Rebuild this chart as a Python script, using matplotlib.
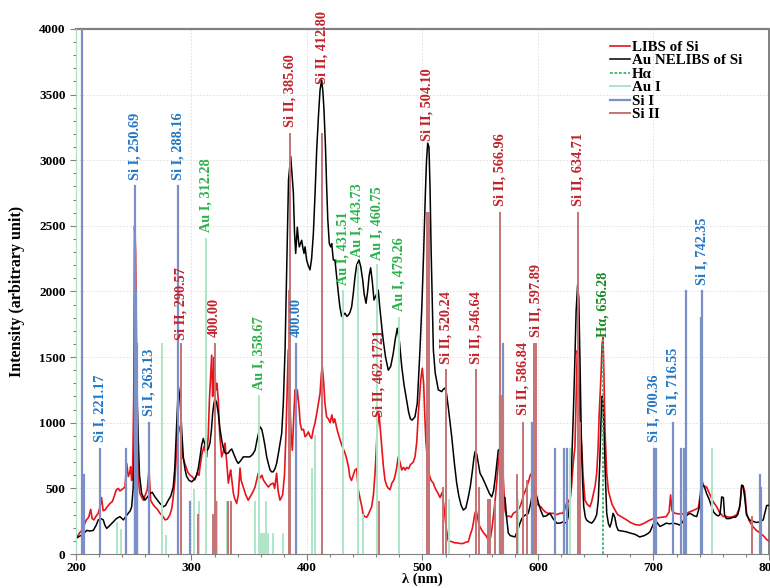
import numpy as np
import matplotlib
matplotlib.use("Agg")
import matplotlib.pyplot as plt
from matplotlib.ticker import MultipleLocator

# LIBS of Si (red): wavelength (nm) / intensity
libs_wl = [200, 201, 203, 205, 207, 209, 211, 212.7, 214, 215.5, 217.5, 219.3, 220.8, 222.1, 223.5, 225,
           227, 229.4, 231.5, 233.8, 235, 236.7, 238, 239.5, 241, 242.4, 243.9, 245.3, 246.5, 247.3,
           248.2, 249, 250, 250.7, 251.6, 252.5, 253.5, 254.5, 255.4, 257, 258.3, 260, 261.7, 263.2,
           264.6, 266.5, 268.4, 270.5, 272.7, 275, 277.1, 279, 281.4, 283, 284.2, 285.5, 286.6, 287.5,
           288.6, 289.5, 290.6, 291.5, 292.3, 293.8, 295.2, 297, 298.7, 300.5, 303, 305, 306.5, 307.4,
           309, 310.8, 312, 313.2, 314.5, 315.5, 316.5, 317.5, 318.3, 319, 319.7, 320.4, 321.2, 322,
           323.2, 324.5, 326.1, 327.5, 329, 330.5, 331.9, 333, 333.9, 335, 336.3, 337.5, 339.1, 340.5,
           342, 343, 344.8, 347, 349.1, 351, 353, 355, 357.8, 359.5, 361, 362.2, 364, 366.5, 368.5,
           370.8, 372, 373.7, 375, 376.6, 378.9, 380.5, 381.8, 383, 383.8, 384.7, 385.3, 386.3, 387.3,
           388.3, 389.6, 390.5, 391.6, 393.3, 394, 395.4, 397, 398.3, 399.7, 401.2, 402.5, 404, 405.5,
           407, 409, 411.3, 412.5, 413.3, 414.5, 415.5, 417, 418.5, 420, 421.5, 422.8, 424, 426, 428.6,
           430.5, 432.9, 434.5, 436, 437, 438.5, 440, 441.5, 443, 444.4, 446, 447.5, 448.7, 450, 451.6,
           453, 454.5, 456, 457.5, 458.9, 460, 460.9, 462.3, 463.5, 464.7, 466, 467.5, 469, 470.5,
           471.9, 473.5, 475, 476, 477.5, 479, 480.5, 482, 483.5, 485, 486.3, 488, 489.5, 490.7, 492,
           493.5, 495, 496.4, 497.5, 498.4, 499.8, 501, 502, 503, 504.5, 506, 507.5, 509.4, 511, 513,
           515.2, 517, 518.3, 519.5, 520.5, 522.3, 525, 528, 530, 532.5, 535, 537.5, 539.7, 541.5, 543,
           544, 545.2, 546.3, 547.5, 548.7, 549.8, 551.5, 553, 555, 557, 559, 560.2, 561.3, 562.8,
           564.2, 565.5, 567, 568.2, 569.4, 570.4, 571.4, 572.9, 575, 576.8, 578.6, 580.5, 582.3,
           584.4, 586, 587.5, 589, 590.2, 592, 593.3, 594.5, 595.8, 597, 598.8, 600.5, 602.5, 604.6,
           606.5, 608.5, 611, 613.2, 615.5, 617.5, 619, 621, 622.8, 624.8, 626.5, 628, 629, 630.5, 632,
           633, 634, 634.7, 635.5, 636.5, 637.8, 639, 640.7, 642.5, 645, 646.5, 648, 649.5, 650.8, 652,
           653, 654.5, 655.5, 656.3, 657, 658, 659.5, 661, 662.3, 664, 666.7, 669, 672, 676.7, 680, 684,
           688, 692, 696, 699.8, 703, 707, 711, 713.5, 714.8, 716, 718.6, 722, 725, 728.7, 731, 734,
           736.5, 738.8, 740.5, 741.7, 743.5, 746, 749, 751.5, 754.7, 757, 760.4, 763, 766, 769, 772,
           774.5, 776.3, 777.5, 779, 780.6, 783, 786.4, 789, 792.2, 795, 798, 800]
libs_int = [120, 130, 160, 180, 220, 260, 280, 340, 270, 260, 290, 310, 360, 430, 330, 335,
            360, 385, 400, 460, 490, 500, 480, 490, 500, 510, 690, 590, 620, 665,
            560, 600, 1200, 2500, 2300, 1500, 800, 520, 460, 430, 410, 450, 490, 640,
            410, 380, 360, 340, 310, 290, 260, 265, 300, 350, 435, 550, 715, 900,
            980, 960, 920, 820, 740, 700, 665, 620, 600, 590, 565, 620, 600, 665,
            760, 820, 780, 740, 900, 1170, 1350, 1515, 1200, 1300, 1500, 1350, 1250, 1300,
            1170, 900, 740, 780, 845, 700, 540, 600, 640, 560, 460, 420, 385, 450,
            655, 560, 510, 450, 410, 440, 470, 510, 615, 580, 600, 565, 540, 510, 530,
            540, 500, 615, 480, 410, 450, 600, 920, 1300, 1555, 1350, 1120, 900, 790,
            1000, 1250, 1150, 1250, 1100, 1000, 945, 950, 894, 906, 930, 900, 880, 950,
            1000, 1100, 1225, 1380, 1420, 1300, 1150, 1045, 1030, 1000, 1060, 1000, 1030, 950, 870,
            820, 770, 720, 660, 590, 560, 600, 640, 650, 490, 420, 360, 300, 285, 280,
            300, 330, 360, 450, 615, 800, 970, 1070, 950, 820, 680, 565, 520, 500,
            490, 540, 560, 585, 650, 740, 700, 640, 660, 640, 660, 650, 680, 690, 700,
            740, 850, 1070, 1200, 1320, 1415, 1300, 1050, 850, 700, 600, 560, 540, 500, 470,
            430, 470, 380, 285, 200, 100, 95, 85, 85, 80, 80, 90, 95, 150, 190,
            235, 300, 335, 290, 230, 205, 180, 160, 140, 105, 130, 200, 285, 400,
            540, 680, 790, 740, 665, 500, 335, 285, 290, 280, 310, 320, 330,
            360, 400, 450, 480, 510, 560, 600, 615, 560, 450, 385, 370, 360, 335,
            320, 310, 310, 310, 300, 305, 310, 310, 330, 390, 400, 430, 510, 690, 820,
            1200, 1550, 1500, 1300, 1000, 820, 600, 410, 380, 360, 400, 460, 520, 615, 800,
            1070, 1350, 1600, 1650, 1400, 945, 615, 480, 435, 380, 335, 300, 285, 260, 240, 225,
            220, 235, 255, 270, 275, 280, 285, 320, 450, 330, 310, 305, 305, 310, 320, 330,
            340, 350, 450, 565, 520, 510, 450, 400, 360, 320, 285, 285, 280, 285, 300,
            350, 510, 520, 480, 310, 250, 205, 180, 160, 140, 110, 100]

# Au NELIBS of Si (black)
nelibs_wl = [200, 203, 206, 209.3, 212, 215, 217.5, 219.3, 221.5, 223.6, 225, 226.6, 229, 232.3, 235,
             238, 241, 243.5, 245.3, 247, 248.2, 249.5, 250.5, 251.3, 252, 253, 254, 255, 256.9,
             258.5, 259.7, 261.5, 264, 266, 268.4, 270.5, 272.7, 275.6, 277.5, 279.9, 282, 284.2,
             285.5, 286.6, 287.7, 288.6, 289.6, 290.6, 291.8, 292.9, 294.5, 295.8, 298, 300.2, 302.5,
             304.5, 306, 307.4, 308.8, 310.2, 311.7, 313.2, 314.5, 316, 317.3, 318.3, 319.3, 320.3,
             321.8, 323.2, 324.5, 326.1, 327.5, 329, 330.5, 331.9, 333.5, 334.8, 336.2, 337.7, 339,
             340.5, 342.5, 344.8, 347.5, 350.6, 353, 355, 357, 359.3, 360.8, 362.2, 363.7, 365.1,
             366.5, 368, 369.5, 370.8, 372.3, 373.7, 375.5, 377, 378.1, 379.5, 381, 382, 383, 384,
             385.9, 387, 388.2, 389.2, 390.2, 391.6, 392.5, 393.3, 394.3, 395.4, 396.5, 397.4, 398.3,
             399.7, 401, 402.6, 404, 405.5, 407, 408.4, 410, 411.3, 412.7, 413.7, 414.7, 416, 417,
             418, 419.3, 420.5, 421.4, 422.8, 424.2, 425.7, 427.1, 428.5, 430, 431.5, 432.9, 434.5,
             435.8, 437.2, 438.7, 440, 441.6, 443, 445, 446.5, 448.2, 449.5, 451.1, 452.5, 453.8,
             455.1, 456.5, 458, 459.8, 461.7, 463, 464.5, 466, 468, 470.4, 472.5, 474.7, 476.5,
             478.2, 480, 482, 484, 486.3, 488, 489.5, 491, 493.5, 495.5, 497.8, 499.5, 501, 502.5,
             503.5, 504.5, 505.6, 506.5, 507.5, 508.5, 509.4, 511, 513.7, 515, 516.6, 518, 519.5,
             520.8, 522.3, 523.8, 525.3, 527.5, 529.6, 531.5, 533.5, 535.3, 537.5, 539.7, 541.5, 543,
             544.5, 545.5, 547, 548.5, 549.8, 552, 554, 556, 558, 559.9, 561.5, 563, 564.5, 565.6,
             566.8, 568, 569, 570, 571.4, 572.8, 574.3, 576, 578, 580, 582, 584.4, 586, 587.3, 589.5,
             591.6, 593.5, 595, 596.5, 598, 600.3, 602.5, 604.6, 607, 610.4, 613, 616.2, 619, 622,
             624.8, 626.5, 627.7, 629, 630.6, 632, 633, 634.3, 635.3, 636.3, 637.5, 638.6, 639.6, 641,
             642, 644, 646.5, 648, 649.4, 650.8, 652.2, 653.5, 654.5, 655.3, 656.3, 657.3, 658.3,
             659.5, 661, 662.3, 663.5, 665, 666.5, 668, 669.5, 673, 676, 679.7, 684, 688, 692, 695,
             697, 699.5, 701.3, 703, 705.6, 708, 711, 714, 717, 720, 722.9, 725, 727.5, 729.5, 731.6,
             733.5, 735.5, 737.4, 739.5, 741.7, 743, 744.5, 746, 748, 750, 752, 754, 756, 757.5,
             758.5, 759, 760.5, 761.5, 763, 766, 769, 771, 773, 775, 776.3, 777.5, 779, 780.5, 783,
             786, 789, 792, 795, 798, 800]
nelibs_int = [120, 135, 150, 180, 175, 180, 220, 260, 270, 260, 220, 195, 215, 245, 270,
              285, 260, 290, 310, 330, 360, 500, 800, 1050, 1210, 1150, 850, 600, 460,
              430, 410, 430, 460, 470, 435, 410, 385, 360, 370, 410, 440, 510,
              650, 870, 1100, 1275, 1220, 1100, 900, 740, 640, 590, 560, 550, 570,
              600, 660, 740, 830, 880, 830, 790, 800, 845, 950, 1070, 1140, 1185,
              1150, 1070, 960, 870, 810, 770, 765, 770, 790, 800, 770, 740, 710,
              690, 710, 740, 740, 740, 760, 790, 880, 970, 950, 894, 820, 740,
              690, 640, 625, 627, 650, 690, 780, 860, 920, 1150, 1555, 2000, 2450, 2850,
              3030, 2900, 2750, 2450, 2290, 2490, 2400, 2340, 2365, 2390, 2330, 2290, 2340,
              2240, 2200, 2165, 2250, 2440, 2750, 3080, 3350, 3535, 3610, 3530, 3385, 3100, 2800,
              2550, 2365, 2340, 2365, 2240, 2240, 2110, 1990, 1880, 1810, 1820, 1835, 1810,
              1820, 1840, 1885, 1980, 2115, 2200, 2240, 2190, 2090, 1980, 1910, 2000, 2120,
              2180, 2080, 1935, 1970, 2010, 1880, 1750, 1630, 1500, 1400, 1430, 1530, 1640,
              1720, 1620, 1430, 1290, 1170, 1080, 1030, 1020, 1045, 1150, 1555, 1900, 2300, 2750,
              3000, 3130, 3100, 2800, 2300, 1900, 1555, 1380, 1250, 1245, 1237, 1255, 1265,
              1220, 1120, 1010, 894, 700, 540, 440, 370, 335, 350, 435, 520, 620,
              730, 780, 760, 680, 615, 580, 540, 500, 460, 435, 480, 580, 700, 790,
              800, 740, 600, 435, 430, 280, 160, 140, 135, 130, 170, 235, 270, 285, 300,
              310, 380, 450, 500, 470, 390, 330, 285, 290, 310, 270, 235, 235, 245,
              235, 300, 435, 650, 1070, 1500, 1850, 2050, 1950, 1500, 900, 550, 360, 280,
              260, 245, 235, 250, 270, 300, 410, 700, 1000, 1200, 1150, 900, 600,
              310, 230, 205, 240, 310, 280, 210, 180, 175, 170, 160, 150, 130, 140, 155,
              170, 220, 260, 240, 210, 220, 235, 230, 235, 230, 220, 240, 280, 300, 310,
              300, 290, 285, 350, 510, 525, 500, 460, 420, 370, 320, 300, 290, 300,
              380, 435, 430, 300, 270, 270, 280, 280, 300, 380, 525, 520, 430, 300, 260,
              250, 240, 245, 260, 370, 370]

# reference emission lines (position nm, stick height)
au1_wl = [200.0, 235.5, 239.0, 274.8, 278.0, 302.0, 306.5, 312.28, 321.8, 330.5, 355.0, 358.67,
          360.5, 362.0, 363.0, 364.5, 366.0, 370.6, 379.0, 404.5, 406.5, 431.51, 443.73, 448.8,
          460.75, 479.26, 523.0, 583.0, 627.8, 751.0]
au1_h = [4000, 240, 180, 1600, 140, 490, 400, 2400, 400, 400, 400, 1200,
         150, 150, 150, 400, 150, 150, 150, 650, 900, 2000, 2200, 300,
         2200, 1800, 410, 410, 800, 800]

si1_wl = [205.0, 206.8, 221.17, 243.5, 250.69, 251.43, 251.92, 252.41, 252.85, 263.13, 288.16,
          298.76, 390.55, 567.0, 569.8, 594.9, 614.7, 622.5, 625.0, 700.36, 702.2, 716.55, 723.8,
          726.4, 728.0, 741.0, 742.35, 792.0, 793.5]
si1_h = [4000, 600, 800, 800, 2800, 2400, 2000, 1600, 1200, 1000, 2800,
         400, 1600, 1200, 1600, 1000, 800, 800, 800, 800, 800, 1000, 800,
         800, 2000, 1800, 2000, 600, 500]

si2_wl = [290.57, 305.5, 318.7, 320.0, 321.5, 332.0, 334.0, 384.6, 385.60, 412.80, 462.17, 504.10,
          505.60, 517.9, 520.24, 546.64, 549.0, 556.7, 558.5, 563.0, 566.96, 568.4, 581.5, 586.84,
          590.2, 596.7, 597.89, 634.71, 636.6, 785.0]
si2_h = [1600, 300, 300, 1600, 400, 400, 400, 2000, 3200, 3200, 400, 2600,
         2600, 500, 1400, 1400, 500, 410, 410, 400, 2600, 1200, 600, 1000,
         560, 1600, 1600, 2600, 1000, 280]

ha_wl = [656.28]
ha_h = [1650]

# line identifications: position, text baseline height, text, line type
id_wl = [221.17, 250.69, 263.13, 288.16, 290.57, 312.28, 320.0, 358.67, 385.60, 390.55, 412.80,
         431.51, 443.73, 460.75, 462.17, 479.26, 504.10, 520.24, 546.64, 566.96, 586.84, 597.89,
         634.71, 656.28, 700.36, 716.55, 742.35]
id_y = [850, 2850, 1050, 2850, 1630, 2450, 1650, 1250, 3250, 1650, 3580,
        2050, 2260, 2240, 1040, 1850, 3150, 1450, 1450, 2650, 1060, 1650,
        2650, 1650, 850, 1060, 2050]
id_text = ["Si I, 221.17", "Si I, 250.69", "Si I, 263.13", "Si I, 288.16", "Si II, 290.57",
           "Au I, 312.28", "400.00", "Au I, 358.67", "Si II, 385.60", "400.00", "Si II, 412.80",
           "Au I, 431.51", "Au I, 443.73", "Au I, 460.75", "Si II, 462.1721", "Au I, 479.26",
           "Si II, 504.10", "Si II, 520.24", "Si II, 546.64", "Si II, 566.96", "Si II, 586.84",
           "Si II, 597.89", "Si II, 634.71", "Hα, 656.28", "Si I, 700.36", "Si I, 716.55",
           "Si I, 742.35"]
id_kind = ["si1", "si1", "si1", "si1", "si2", "au1", "si2", "au1", "si2", "si1", "si2",
           "au1", "au1", "au1", "si2", "au1", "si2", "si2", "si2", "si2", "si2", "si2",
           "si2", "ha", "si1", "si1", "si1"]

text_colors = {"si1": "#2277c4", "si2": "#c0232b", "au1": "#2bb34c", "ha": "#1b8a22"}

plt.rcParams["font.family"] = ["Liberation Serif", "DejaVu Serif"]
plt.rcParams["font.weight"] = "bold"


def sticks(wl, h):
    # vertical lines from zero, separated by NaN so one Line2D holds them all
    x = np.repeat(np.asarray(wl, float), 3)
    y = np.zeros_like(x)
    y[1::3] = h
    x[2::3] = np.nan
    y[2::3] = np.nan
    return x, y


fig = plt.figure(figsize=(7.7, 5.88), dpi=100)
ax = fig.add_axes([0.0987, 0.0578, 0.9, 0.893])

ax.plot(libs_wl, libs_int, color="#e8141c", lw=1.2, label="LIBS of Si", zorder=3)
ax.plot(nelibs_wl, nelibs_int, color="black", lw=1.1, label="Au NELIBS of Si", zorder=3)
ax.plot(*sticks(ha_wl, ha_h), color="#3cb46e", lw=1.3, ls=(0, (1.5, 1)), label="Hα", zorder=4)
ax.plot(*sticks(au1_wl, au1_h), color="#aee6c6", lw=1.4, label="Au I", zorder=4)
ax.plot(*sticks(si1_wl, si1_h), color="#7b8fc8", lw=1.6, label="Si I", zorder=5)
ax.plot(*sticks(si2_wl, si2_h), color="#c47474", lw=1.4, label="Si II", zorder=5)

for x, y, t, k in zip(id_wl, id_y, id_text, id_kind):
    ax.text(x, y, t, rotation=90, ha="center", va="bottom", fontsize=10.3,
            fontweight="bold", color=text_colors[k], clip_on=False, zorder=6)

ax.set_xlim(200, 800)
ax.set_ylim(0, 4000)
ax.xaxis.set_major_locator(MultipleLocator(100))
ax.xaxis.set_minor_locator(MultipleLocator(20))
ax.yaxis.set_major_locator(MultipleLocator(500))
ax.yaxis.set_minor_locator(MultipleLocator(100))
ax.tick_params(which="both", direction="out", color="#808080", width=0.8)
ax.tick_params(which="major", length=4, labelsize=9.5)
ax.tick_params(axis="x", which="major", pad=2)
ax.tick_params(which="minor", length=2.5)
ax.grid(True, which="major", color="#dcdcdc", lw=0.6, ls=(0, (2, 2)))
ax.set_axisbelow(True)

for side in ["left", "bottom", "top", "right"]:
    ax.spines[side].set_color("#808080")
ax.spines["top"].set_linewidth(1.6)
ax.spines["right"].set_linewidth(1.4)

ax.set_xlabel("λ (nm)", fontsize=10.5, fontweight="bold", labelpad=-1)
ax.set_ylabel("Intensity (arbitrary unit)", fontsize=11.5, fontweight="bold", labelpad=10)

leg = ax.legend(loc="upper left", bbox_to_anchor=(0.77, 0.978), fontsize=10.8, frameon=False,
                handlelength=1.35, handletextpad=0.15, labelspacing=0.0,
                borderpad=0.0, borderaxespad=0.0)
for txt in leg.get_texts():
    txt.set_fontweight("bold")

fig.savefig("out.png", dpi=100)
